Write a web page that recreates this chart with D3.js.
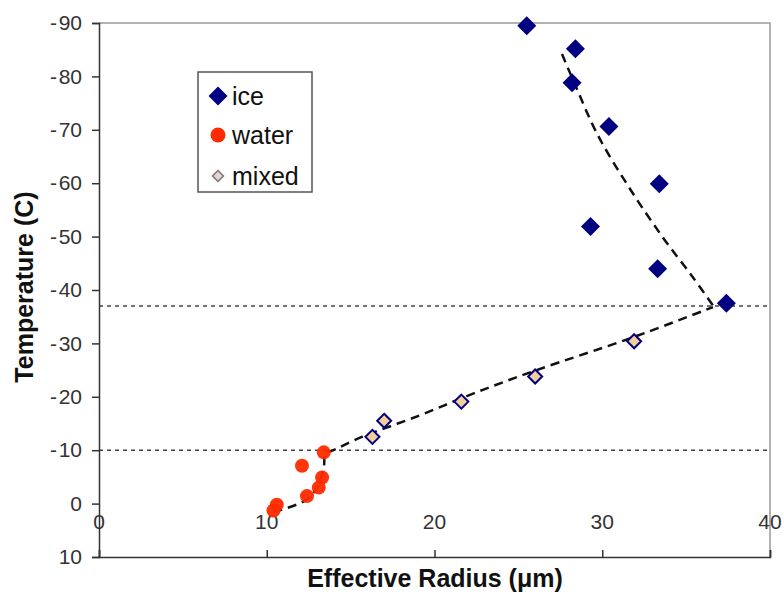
<!DOCTYPE html>
<html>
<head>
<meta charset="utf-8">
<script src="https://cdn.jsdelivr.net/npm/d3@7"></script>
<style>
  body { margin: 0; background: #fff; }
  text { font-family: "Liberation Sans", Arial, sans-serif; }
</style>
</head>
<body>
<svg id="chart" width="783" height="601"></svg>
<script>
// values
let iceX   = [25.5, 28.4, 28.2, 30.4, 33.4, 29.3, 33.3, 37.4]
let iceT   = [-89.5, -85.2, -78.8, -70.6, -59.9, -51.9, -44.0, -37.5]
let waterX = [13.4, 12.1, 13.3, 13.1, 12.4, 10.6, 10.4]
let waterT = [-9.6, -7.1, -4.9, -3.0, -1.4, 0.2, 1.3]
let mixedX = [16.3, 17.0, 21.6, 26.0, 31.9]
let mixedT = [-12.5, -15.5, -19.1, -23.8, -30.4]

// fitted curves (dashed)
let iceFitX = [27.6, 28.4, 29.7, 31.6, 33.6, 35.4, 36.6]
let iceFitT = [-84.2, -78.3, -69.2, -59.2, -49.9, -42.4, -37.1]
let lowFitX = [10.4, 12.3, 13.0, 13.4, 13.5, 13.8, 15.6, 19.1, 22.3, 26.0, 31.8, 36.6]
let lowFitT = [1.6, -0.6, -3.0, -6.8, -9.6, -9.8, -12.4, -16.5, -20.6, -24.9, -31.1, -36.8]

// reference levels
let levels = [-37, -10]

let xTicks = [0, 10, 20, 30, 40]
let yTicks = [-90, -80, -70, -60, -50, -40, -30, -20, -10, 0, 10]

let svg = d3.select("#chart")

let x = d3.scaleLinear().domain([0, 40]).range([99, 770])
let y = d3.scaleLinear().domain([-90, 10]).range([23, 557])

// frame top + right (grey)
svg.append("path")
  .attr("d", `M${x(0)},${y(-90)}H${x(40)}V${y(10)}`)
  .attr("fill", "none")
  .attr("stroke", "#999")
  .attr("stroke-width", 1.5)

// dotted reference lines
svg.selectAll(".lvl")
  .data(levels)
  .enter()
  .append("line")
    .attr("x1", x(0))
    .attr("x2", x(40))
    .attr("y1", d => y(d))
    .attr("y2", d => y(d))
    .attr("stroke", "#444")
    .attr("stroke-width", 1.6)
    .attr("stroke-dasharray", "4,4")

// left axis
let yAxis = d3.axisLeft(y)
  .tickValues(yTicks)
  .tickSize(7)
  .tickPadding(10)
  .tickFormat(d => d < 0 ? "-\u200a" + Math.abs(d) : d)

let gy = svg.append("g")
  .attr("transform", `translate(${x(0)},0)`)
  .call(yAxis)
gy.select(".domain").attr("stroke", "#333").attr("stroke-width", 1.5)
gy.selectAll(".tick line").attr("stroke", "#333").attr("stroke-width", 1.5)
gy.selectAll("text")
  .attr("font-size", 21)
  .attr("fill", "#333")
  .attr("font-family", "Liberation Sans, Arial, sans-serif")

// bottom axis line with inside ticks
let xAxis = d3.axisTop(x)
  .tickValues(xTicks)
  .tickSize(7)
  .tickFormat("")
let gx = svg.append("g")
  .attr("transform", `translate(0,${y(10)})`)
  .call(xAxis)
gx.select(".domain").attr("stroke", "#333").attr("stroke-width", 1.5)
gx.selectAll(".tick line").attr("stroke", "#333").attr("stroke-width", 1.5)

// x tick labels sit just under the zero line
svg.selectAll(".xl")
  .data(xTicks)
  .enter()
  .append("text")
    .attr("x", d => x(d))
    .attr("y", y(0) + 25)
    .attr("text-anchor", "middle")
    .attr("font-size", 21)
    .attr("fill", "#333")
    .text(d => d)

// axis titles
svg.append("text")
  .attr("x", 435)
  .attr("y", 587)
  .attr("text-anchor", "middle")
  .attr("font-size", 25)
  .attr("font-weight", "bold")
  .attr("fill", "#111")
  .text("Effective Radius (\u03bcm)")

svg.append("text")
  .attr("transform", "translate(33,287) rotate(-90)")
  .attr("text-anchor", "middle")
  .attr("font-size", 25)
  .attr("font-weight", "bold")
  .attr("fill", "#111")
  .text("Temperature (C)")

// dashed fits
let line = d3.line()
  .x(d => x(d[0]))
  .y(d => y(d[1]))
  .curve(d3.curveCatmullRom)

let fits = [d3.zip(iceFitX, iceFitT), d3.zip(lowFitX, lowFitT)]
svg.selectAll(".fit")
  .data(fits)
  .enter()
  .append("path")
    .attr("d", line)
    .attr("fill", "none")
    .attr("stroke", "#111")
    .attr("stroke-width", 2.5)
    .attr("stroke-dasharray", "9,6")

let diamond = (r) => `M0,${-r}L${r},0L0,${r}L${-r},0Z`

// water
svg.selectAll(".water")
  .data(d3.zip(waterX, waterT))
  .enter()
  .append("circle")
    .attr("cx", d => x(d[0]))
    .attr("cy", d => y(d[1]))
    .attr("r", 7)
    .attr("fill", "#ff2a00")
    .attr("opacity", 0.95)

// mixed
svg.selectAll(".mixed")
  .data(d3.zip(mixedX, mixedT))
  .enter()
  .append("path")
    .attr("transform", d => `translate(${x(d[0])},${y(d[1])})`)
    .attr("d", diamond(7))
    .attr("fill", "#f3cf9c")
    .attr("stroke", "#000080")
    .attr("stroke-width", 2)

// ice
svg.selectAll(".ice")
  .data(d3.zip(iceX, iceT))
  .enter()
  .append("path")
    .attr("transform", d => `translate(${x(d[0])},${y(d[1])})`)
    .attr("d", diamond(9.5))
    .attr("fill", "#000080")

// legend
let legend = svg.append("g")
legend.append("rect")
  .attr("x", 198)
  .attr("y", 72)
  .attr("width", 114)
  .attr("height", 120)
  .attr("fill", "#fff")
  .attr("stroke", "#555")
  .attr("stroke-width", 1.5)

let legNames = ["ice", "water", "mixed"]
let legY = [96, 135, 176]
let items = legend.selectAll(".item")
  .data(legNames)
  .enter()
  .append("g")
    .attr("transform", (d, i) => `translate(218,${legY[i]})`)

items.filter(d => d == "ice").append("path")
  .attr("d", diamond(9.5))
  .attr("fill", "#000080")
items.filter(d => d == "water").append("circle")
  .attr("r", 7.5)
  .attr("fill", "#ff2a00")
items.filter(d => d == "mixed").append("path")
  .attr("d", diamond(5.5))
  .attr("fill", "#e8d2cc")
  .attr("stroke", "#777")
  .attr("stroke-width", 1.5)

items.append("text")
  .attr("x", 14)
  .attr("dy", "0.35em")
  .attr("font-size", 25)
  .attr("fill", "#111")
  .text(d => d)
</script>
</body>
</html>
